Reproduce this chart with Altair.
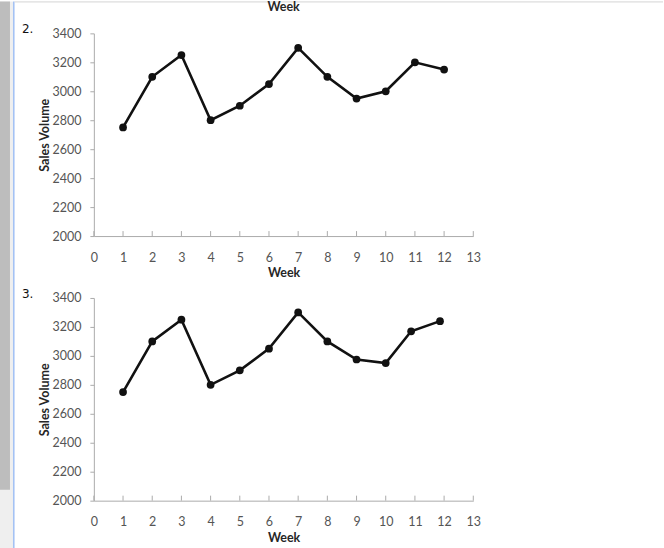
import altair as alt
import pandas as pd

# ---- data ----
weeks_a = [1, 2, 3, 4, 5, 6, 7, 8, 9, 10, 11, 12]
sales_a = [2750, 3100, 3250, 2800, 2900, 3050, 3300, 3100, 2950, 3000, 3200, 3150]

weeks_b = [1, 2, 3, 4, 5, 6, 7, 8, 9, 10, 10.87, 11.86]
sales_b = [2750, 3100, 3250, 2800, 2900, 3050, 3300, 3100, 2975, 2950, 3170, 3240]

x_tick_values = list(range(0, 14))
y_tick_values = [2000, 2200, 2400, 2600, 2800, 3000, 3200, 3400]

W, H = 380, 203
AXIS_GREY = "#ababab"
LABEL_GREY = "#555555"
TITLE_COL = "#262626"
FONT = "Lato"

dummy = pd.DataFrame({"d": [0]})


def panel(weeks, sales, number, first):
    df = pd.DataFrame({"Week": weeks, "Sales": sales})
    xs = alt.Scale(domain=[0, 13], nice=False, zero=False)
    ys = alt.Scale(domain=[2000, 3400], nice=False, zero=False)
    xaxis = alt.Axis(
        values=x_tick_values, ticks=False, grid=False, format="d",
        labelPadding=21, labelBaseline="middle", labelFont=FONT, labelFontSize=12.5,
        labelColor=LABEL_GREY, domainColor=AXIS_GREY, labelFlush=False,
        title="Week", titleX=W / 2, titleY=37, titleBaseline="middle", titleAlign="center",
        titleFont=FONT, titleFontSize=12.5, titleFontWeight="bold", titleColor=TITLE_COL,
    )
    yaxis = alt.Axis(
        values=y_tick_values, grid=False, tickSize=4, tickColor=AXIS_GREY, format="d",
        labelPadding=9, labelFont=FONT, labelFontSize=12.5, labelColor=LABEL_GREY,
        domainColor=AXIS_GREY, labelFlush=False,
        title="Sales Volume", titleX=-49, titleY=H / 2, titleAngle=270,
        titleAlign="center", titleBaseline="middle",
        titleFont=FONT, titleFontSize=12.5, titleFontWeight="bold", titleColor=TITLE_COL,
    )
    X = alt.X("Week:Q", scale=xs, axis=xaxis, title="Week")
    Y = alt.Y("Sales:Q", scale=ys, axis=yaxis, title="Sales Volume")
    layers = []
    if first:
        layers += [
            alt.Chart(dummy).mark_rect(color="#efefef").encode(
                x=alt.value(-94), x2=alt.value(-81), y=alt.value(-32), y2=alt.value(516)),
            alt.Chart(dummy).mark_rect(color="#bdbdbd").encode(
                x=alt.value(-94), x2=alt.value(-84), y=alt.value(-32), y2=alt.value(457)),
            alt.Chart(dummy).mark_rule(color="#a4c2f4", strokeWidth=1.6).encode(
                x=alt.value(-80.2), y=alt.value(-32), y2=alt.value(516)),
            alt.Chart(dummy).mark_rule(color="#d4d4d4", strokeWidth=1).encode(
                x=alt.value(-79.5), x2=alt.value(570), y=alt.value(-31.5)),
            alt.Chart(dummy).mark_text(
                text="Week", font=FONT, fontSize=12.5, fontWeight="bold", color=TITLE_COL,
                align="center", baseline="middle").encode(
                x=alt.value(W / 2), y=alt.value(-26)),
        ]
    layers += [
        alt.Chart(dummy).mark_text(
            text=number, font="DejaVu Sans", fontSize=12, color="#111",
            align="left", baseline="middle").encode(
            x=alt.value(-72), y=alt.value(-4)),
        alt.Chart(df).mark_line(color="#111", strokeWidth=2.6).encode(x=X, y=Y),
        alt.Chart(pd.DataFrame({"Week": x_tick_values})).mark_rule(
            color=AXIS_GREY, strokeWidth=1).encode(
            x=X, y=alt.value(H), y2=alt.value(H - 5)),
        alt.Chart(df).mark_circle(color="#111", size=60, opacity=1).encode(x=X, y=Y),
    ]
    return alt.layer(*layers).properties(width=W, height=H)


top = panel(weeks_a, sales_a, "2.", True)
bottom = panel(weeks_b, sales_b, "3.", False)

chart = alt.vconcat(top, bottom, spacing=62, bounds="flush").properties(
    padding=0, background="white", autosize=alt.AutoSizeParams(type="pad")
).configure_view(stroke=None)

chart.save("out.html", embed_options={"renderer": "svg", "actions": False})
